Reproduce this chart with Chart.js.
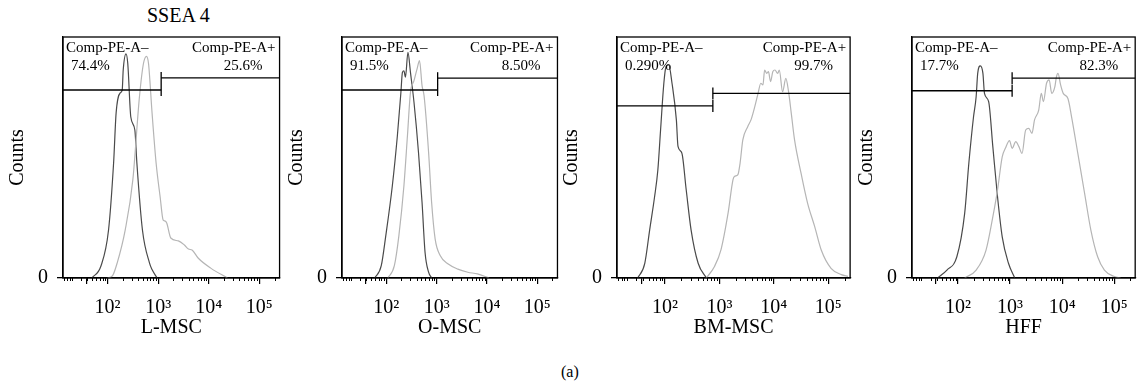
<!DOCTYPE html>
<html>
<head>
<meta charset="utf-8">
<script src="https://cdn.jsdelivr.net/npm/chart.js@4.4.0/dist/chart.umd.min.js"></script>
<style>
  body { margin: 0; background: #fff; width: 1140px; height: 387px; position: relative; overflow: hidden; font-family: "Liberation Serif", serif; }
  .wrap { position: absolute; top: 0; height: 387px; }
  .note { position: absolute; color: #000; white-space: nowrap; }
</style>
</head>
<body>
<div class="note" style="left:147px;top:5px;font-size:20px;line-height:20px">SSEA 4</div>
<div class="note" style="left:561px;top:364px;font-size:16px;line-height:16px">(a)</div>
<div class="wrap" id="w0"><canvas id="c0"></canvas></div>
<div class="wrap" id="w1"><canvas id="c1"></canvas></div>
<div class="wrap" id="w2"><canvas id="c2"></canvas></div>
<div class="wrap" id="w3"><canvas id="c3"></canvas></div>
<script>
// -----------------------------
// DATA (x = log10 fluorescence, y = % of max counts)
// -----------------------------
const panelNames = ["L-MSC", "O-MSC", "BM-MSC", "HFF"];
const gateNames = ["Comp-PE-A–", "Comp-PE-A+"];
const negPercent = ["74.4%", "91.5%", "0.290%", "17.7%"];
const posPercent = ["25.6%", "8.50%", "99.7%", "82.3%"];
const gateSplit = [3.06, 3.02, 2.88, 3.04];
const negGateLevel = [78, 78, 71.4, 77.7];
const posGateLevel = [83, 82.9, 76.6, 82.9];

const majorTicks = [1.58, 2, 3, 4, 5];
const tickLabels = ["", "10²", "10³", "10⁴", "10⁵"];
const minorTickValues = [14, 16, 18, 20, 30, 40, 50, 60, 70, 80, 90,
    200, 300, 400, 500, 600, 700, 800, 900,
    2000, 3000, 4000, 5000, 6000, 7000, 8000, 9000,
    20000, 30000, 40000, 50000, 60000, 70000, 80000, 90000, 200000];

const lmscIsoX = [1.69, 1.87, 2.02, 2.12, 2.17, 2.25, 2.29, 2.31, 2.365, 2.40, 2.46, 2.54, 2.58, 2.69, 2.83, 2.88, 2.98];
const lmscIsoY = [0, 5, 19.9, 47.7, 68.5, 76.8, 78, 86.3, 93, 89, 66.8, 61.4, 47.7, 19.9, 6.2, 3.5, 0];
const lmscStainX = [2.0, 2.1, 2.19, 2.35, 2.5, 2.63, 2.71, 2.77, 2.81, 2.88, 2.96, 3.04, 3.10, 3.13, 3.17, 3.25, 3.40, 3.52, 3.60, 3.67, 3.79, 4.04, 4.37];
const lmscStainY = [0, 1, 6.2, 20, 40.7, 75, 89, 92, 89, 68.5, 47.7, 33.6, 24, 23.7, 22.8, 16.6, 15.4, 13.7, 12, 11.6, 8.3, 4.1, 0];

const omscIsoX = [1.77, 1.90, 1.99, 2.12, 2.22, 2.29, 2.32, 2.35, 2.38, 2.43, 2.48, 2.55, 2.64, 2.71, 2.77, 2.84, 2.90];
const omscIsoY = [0, 5.1, 17.6, 38.3, 59, 77, 85.3, 86, 83.3, 93.6, 85.3, 72.9, 52, 31.4, 10.6, 2.4, 0];
const omscStainX = [2.03, 2.16, 2.25, 2.35, 2.42, 2.48, 2.55, 2.61, 2.66, 2.71, 2.75, 2.84, 2.90, 2.97, 3.07, 3.23, 3.42, 3.62, 3.81, 4.04];
const omscStainY = [0, 5.1, 17.6, 38.3, 59, 77, 81.9, 86.7, 90.2, 79.8, 75.6, 52.2, 31.4, 16.2, 9.3, 5.8, 3.7, 2.4, 1.7, 0];

const bmIsoX = [1.50, 1.63, 1.72, 1.81, 1.87, 1.92, 1.98, 2.02, 2.07, 2.13, 2.21, 2.24, 2.31, 2.39, 2.48, 2.61, 2.76];
const bmIsoY = [0, 6.1, 20, 33.7, 44.8, 61.4, 80.8, 87.7, 88.4, 80.8, 65.6, 54.6, 51.9, 36.7, 20, 6.1, 0];
const bmStainX = [2.76, 2.91, 3.03, 3.16, 3.25, 3.28, 3.34, 3.38, 3.43, 3.52, 3.58, 3.65, 3.71, 3.76, 3.80, 3.83, 3.87, 3.90, 3.94, 3.98,
    4.02, 4.07, 4.10, 4.16, 4.22, 4.27, 4.32, 4.38, 4.50, 4.62, 4.75, 4.87, 5.05, 5.24, 5.36];
const bmStainY = [0, 4.8, 11.8, 27, 40.8, 42.2, 42.9, 47.7, 57.3, 62.8, 65.6, 71.1, 76.6, 80.8, 80.1, 86.3, 84.9, 85.6, 81.5, 85.6,
    86.3, 84.9, 86.3, 77.3, 82.8, 77.3, 68.3, 57.3, 43.4, 31, 21.3, 11.6, 4, 1.4, 0.7];

const hffIsoX = [1.61, 1.79, 1.98, 2.13, 2.21, 2.30, 2.35, 2.38, 2.43, 2.48, 2.51, 2.59, 2.67, 2.76, 2.85, 2.97, 3.09];
const hffIsoY = [0, 3.3, 8.8, 26.8, 47.6, 66.9, 75.2, 84.9, 88, 84.9, 76.6, 73.2, 54.5, 33.7, 17.1, 6.1, 0];
const hffStainX = [2.13, 2.35, 2.54, 2.67, 2.76, 2.85, 2.91, 2.99, 3.04, 3.11, 3.17, 3.23, 3.30, 3.36, 3.42, 3.47, 3.55, 3.60, 3.64, 3.70,
    3.75, 3.80, 3.86, 3.89, 3.92, 3.97, 4.02, 4.11, 4.18, 4.30, 4.43, 4.55, 4.68, 4.81, 4.99, 5.12];
const hffStainY = [0, 3.3, 11.6, 25.4, 36.5, 50.3, 53.8, 57, 53.8, 56.6, 54.5, 51.7, 61.4, 62.1, 60, 65.6, 69.7, 76.6, 73.2, 80.8,
    82.2, 76.6, 79.4, 83.5, 84.9, 80.1, 76.6, 74.5, 66.9, 51.7, 35.1, 19.9, 8.8, 3.3, 0.7, 0];

const isoSeries = [[lmscIsoX, lmscIsoY], [omscIsoX, omscIsoY], [bmIsoX, bmIsoY], [hffIsoX, hffIsoY]];
const stainSeries = [[lmscStainX, lmscStainY], [omscStainX, omscStainY], [bmStainX, bmStainY], [hffStainX, hffStainY]];

// -----------------------------
// LAYOUT
// -----------------------------
const FONT = '"Liberation Serif", "Times New Roman", serif';
const boxes = [[63, 283], [342, 561], [617, 852], [912, 1138]];
const BOX_TOP = 37, BOX_BOTTOM = 278, Y_AXIS_W = 63, X_AXIS_H = 62, PAD_R = 2;

function toPoints(xs, ys) {
    return xs.map((x, k) => ({ x: x, y: ys[k] }));
}

function strokeLine(ctx, x1, y1, x2, y2) {
    ctx.beginPath();
    ctx.moveTo(x1, y1);
    ctx.lineTo(x2, y2);
    ctx.stroke();
}

// box, minor ticks, gates and gate labels
const flowPlugin = {
    id: 'flow',
    afterDatasetsDraw(chart, args, opts) {
        const i = opts.panel;
        const { ctx, chartArea: a, scales: { x, y } } = chart;
        ctx.save();
        ctx.strokeStyle = '#000';
        ctx.lineWidth = 1.3;
        ctx.strokeRect(a.left, a.top, a.right - a.left, a.bottom - a.top);

        ctx.lineWidth = 1;
        minorTickValues.forEach(v => {
            const lv = Math.log10(v);
            if (lv < x.min || lv > x.max) return;
            const px = Math.round(x.getPixelForValue(lv)) + 0.5;
            strokeLine(ctx, px, a.bottom, px, a.bottom + 3);
        });

        const gx = x.getPixelForValue(gateSplit[i]);
        const ny = y.getPixelForValue(negGateLevel[i]);
        const py = y.getPixelForValue(posGateLevel[i]);
        ctx.lineWidth = 1.3;
        strokeLine(ctx, a.left, ny, gx, ny);
        strokeLine(ctx, gx, ny - 6, gx, ny + 6);
        strokeLine(ctx, gx, py, a.right, py);
        strokeLine(ctx, gx, py - 6, gx, py + 6);

        ctx.fillStyle = '#000';
        ctx.font = '15px ' + FONT;
        ctx.textBaseline = 'middle';
        ctx.textAlign = 'left';
        ctx.fillText(gateNames[0], a.left + 3, a.top + 11);
        ctx.fillText(negPercent[i], a.left + 8, a.top + 29);
        ctx.textAlign = 'right';
        ctx.fillText(gateNames[1], a.right - 4, a.top + 11);
        ctx.fillText(posPercent[i], a.right - 17, a.top + 29);
        ctx.restore();
    }
};

function makePanel(i) {
    const [bl, br] = boxes[i];
    const wrap = document.getElementById('w' + i);
    const canvas = document.getElementById('c' + i);
    const width = br - bl + Y_AXIS_W + PAD_R;
    wrap.style.left = (bl - Y_AXIS_W) + 'px';
    wrap.style.width = width + 'px';
    canvas.width = width;
    canvas.height = 387;

    new Chart(canvas, {
        type: 'line',
        data: {
            datasets: [
                { data: toPoints(stainSeries[i][0], stainSeries[i][1]), borderColor: '#b5b5b5', borderWidth: 1.2 },
                { data: toPoints(isoSeries[i][0], isoSeries[i][1]), borderColor: '#4a4a4a', borderWidth: 1.2 }
            ]
        },
        options: {
            responsive: false,
            animation: false,
            events: [],
            layout: { padding: { top: BOX_TOP, right: PAD_R, bottom: 387 - BOX_BOTTOM - X_AXIS_H, left: 0 } },
            elements: {
                point: { radius: 0 },
                line: { cubicInterpolationMode: 'monotone', fill: false }
            },
            plugins: {
                legend: { display: false },
                tooltip: { enabled: false },
                flow: { panel: i }
            },
            scales: {
                x: {
                    type: 'linear',
                    min: 1.12,
                    max: 5.4,
                    afterBuildTicks: s => { s.ticks = majorTicks.map(v => ({ value: v })); },
                    afterFit: s => { s.height = X_AXIS_H; },
                    ticks: {
                        autoSkip: false,
                        maxRotation: 0,
                        padding: 12,
                        color: '#000',
                        font: { family: FONT, size: 20 },
                        callback: (v, idx) => tickLabels[idx]
                    },
                    grid: { drawOnChartArea: false, drawTicks: true, tickLength: 6, color: '#000', lineWidth: 1.2 },
                    border: { display: true, color: '#000', width: 1.3 },
                    title: {
                        display: true,
                        text: panelNames[i],
                        color: '#000',
                        font: { family: FONT, size: 20, lineHeight: 1.2 },
                        padding: { top: 0, bottom: 0 }
                    }
                },
                y: {
                    min: 0,
                    max: 100,
                    afterBuildTicks: s => { s.ticks = [{ value: 0 }]; },
                    afterFit: s => { s.width = Y_AXIS_W; },
                    ticks: { padding: 9, color: '#000', font: { family: FONT, size: 20 } },
                    grid: { drawOnChartArea: false, drawTicks: true, tickLength: 6, color: '#000', lineWidth: 1.3 },
                    border: { display: true, color: '#000', width: 1.3 },
                    title: {
                        display: true,
                        text: 'Counts',
                        color: '#000',
                        font: { family: FONT, size: 20, lineHeight: 1.2 },
                        padding: { top: 6, bottom: 0 }
                    }
                }
            }
        },
        plugins: [flowPlugin]
    });
}

document.addEventListener("DOMContentLoaded", () => {
    for (let i = 0; i < 4; i++) makePanel(i);
});
</script>
</body>
</html>
